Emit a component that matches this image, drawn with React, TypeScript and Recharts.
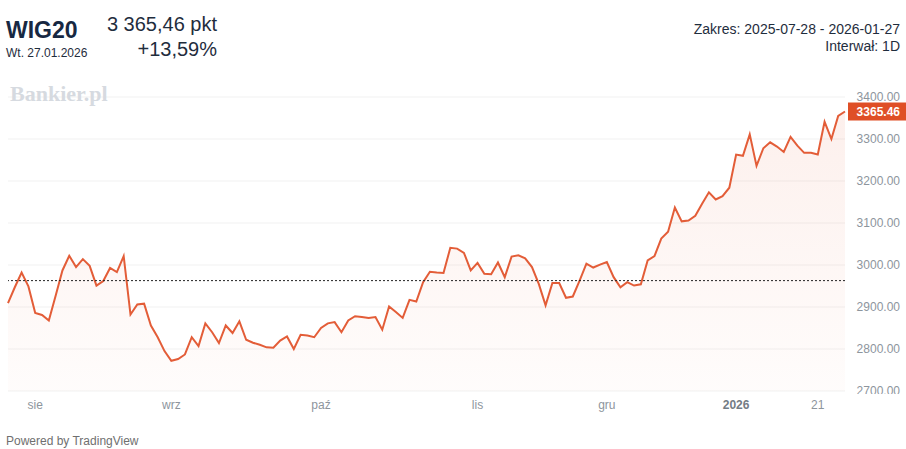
import { Area, CartesianGrid, ComposedChart, ReferenceLine, XAxis, YAxis } from "recharts";

// WIG20 daily closes, 2025-07-28 .. 2026-01-27 (trading days only)
const closes = [
  2909, 2947, 2982, 2949, 2886, 2881, 2868, 2927, 2987, 3022,
  2995, 3014, 2998, 2951, 2962, 2993, 2983, 3021, 2882, 2906,
  2908, 2856, 2828, 2795, 2772, 2776, 2787, 2828, 2807, 2861,
  2840, 2814, 2856, 2838, 2866, 2822, 2815, 2810, 2804, 2803,
  2820, 2830, 2800, 2834, 2832, 2828, 2850, 2861, 2864, 2840,
  2868, 2878, 2876, 2874, 2876, 2846, 2901, 2888, 2874, 2917,
  2913, 2959, 2984, 2982, 2981, 3041, 3039, 3029, 2987, 3005,
  2979, 2978, 3006, 2971, 3020, 3023, 3016, 2995, 2955, 2904,
  2957, 2957, 2922, 2925, 2963, 3003, 2994, 3001, 3007, 2971,
  2947, 2959, 2951, 2954, 3011, 3021, 3063, 3079, 3137, 3104,
  3106, 3117, 3146, 3173, 3156, 3164, 3184, 3263, 3260, 3311,
  3236, 3278, 3292, 3282, 3269, 3305, 3284, 3267, 3267, 3263,
  3341, 3300, 3355, 3365.46
];

// first trading day of each month / marked days, as index into closes
const xTickIdx = [4, 24, 46, 69, 88, 107, 119];
const xTickLabels = ["sie", "wrz", "paź", "lis", "gru", "2026", "21"];
const yTicks = [2700, 2800, 2900, 3000, 3100, 3200, 3300, 3400];

const startValue = 2962.8;
const lastValue = closes[closes.length - 1];

const data = closes.map((close, i) => ({ i, close }));

const font = '"Liberation Sans", Arial, sans-serif';
const axisGrey = "#8d959d";
const lineColor = "#e35d38";

function XTick(props: any) {
  const { x, y, payload } = props;
  const k = xTickIdx.indexOf(payload.value);
  const label = xTickLabels[k] ?? "";
  const isYear = label === "2026";
  return (
    <text
      x={x}
      y={y}
      dy={10}
      textAnchor="middle"
      fontFamily={font}
      fontSize={12}
      fontWeight={isYear ? 700 : 400}
      fill={isYear ? "#737c85" : axisGrey}
    >
      {label}
    </text>
  );
}

function YTick(props: any) {
  const { y, payload } = props;
  return (
    <text x={900} y={y} dy={4} textAnchor="end" fontFamily={font} fontSize={12} fill={axisGrey}>
      {Number(payload.value).toFixed(2)}
    </text>
  );
}

function PriceTag(props: any) {
  const vb = props.viewBox || {};
  const right = vb.x + vb.width;
  return (
    <g>
      <rect x={right + 3} y={vb.y - 9} width={60} height={18} fill="#df4f26" />
      <text x={900} y={vb.y} dy={4} textAnchor="end" fontFamily={font} fontSize={12} fontWeight={700} fill="#fff">
        {lastValue.toFixed(2)}
      </text>
    </g>
  );
}

export default function App() {
  return (
    <div style={{ position: "absolute", left: 0, top: 0, width: 906, height: 449, background: "#fff", fontFamily: font, overflow: "hidden" }}>
      <ComposedChart width={906} height={449} data={data} margin={{ top: 97, right: 0, bottom: 28, left: 8 }}>
        <defs>
          <linearGradient id="wigFill" x1="0" y1="0" x2="0" y2="1">
            <stop offset="0%" stopColor="#e8623d" stopOpacity={0.16} />
            <stop offset="100%" stopColor="#e8623d" stopOpacity={0.03} />
          </linearGradient>
        </defs>
        <CartesianGrid vertical={false} stroke="#f1f1f1" />
        <XAxis
          dataKey="i"
          type="number"
          domain={[0, closes.length - 1]}
          ticks={xTickIdx}
          tick={<XTick />}
          axisLine={false}
          tickLine={false}
          height={30}
          interval={0}
        />
        <YAxis
          orientation="right"
          domain={[2700, 3400]}
          ticks={yTicks}
          tick={<YTick />}
          axisLine={false}
          tickLine={false}
          width={61}
          interval={0}
        />
        <Area
          type="linear"
          dataKey="close"
          stroke={lineColor}
          strokeWidth={2}
          fill="url(#wigFill)"
          dot={false}
          activeDot={false}
          isAnimationActive={false}
        />
        <ReferenceLine y={startValue} stroke="#222" strokeDasharray="2 2" strokeWidth={1} />
        <ReferenceLine y={lastValue} stroke="none" label={<PriceTag />} />
      </ComposedChart>

      {/* the bottom axis label is cut off in the source */}
      <div style={{ position: "absolute", left: 846, top: 394, width: 60, height: 20, background: "#fff" }} />

      <div style={{ position: "absolute", left: 6, top: 17, fontSize: 23, fontWeight: 700, color: "#172842" }}>WIG20</div>
      <div style={{ position: "absolute", left: 6, top: 46, fontSize: 12, color: "#1f2d3d" }}>Wt. 27.01.2026</div>
      <div style={{ position: "absolute", left: 100, top: 13, width: 117, textAlign: "right", fontSize: 20, color: "#1f2d3d" }}>
        3 365,46 pkt
      </div>
      <div style={{ position: "absolute", left: 100, top: 38, width: 117, textAlign: "right", fontSize: 20, color: "#1f2d3d" }}>
        +13,59%
      </div>
      <div style={{ position: "absolute", right: 6, top: 21, textAlign: "right", fontSize: 14, color: "#1f2d3d", lineHeight: "17px" }}>
        Zakres: 2025-07-28 - 2026-01-27
        <br />
        Interwał: 1D
      </div>
      <div style={{ position: "absolute", left: 10, top: 81, fontFamily: '"Liberation Serif", Georgia, serif', fontSize: 22, fontWeight: 700, color: "#d6dae0" }}>
        Bankier.pl
      </div>
      <div style={{ position: "absolute", left: 6, top: 434, fontSize: 12, color: "#6f6f6f" }}>Powered by TradingView</div>
    </div>
  );
}
